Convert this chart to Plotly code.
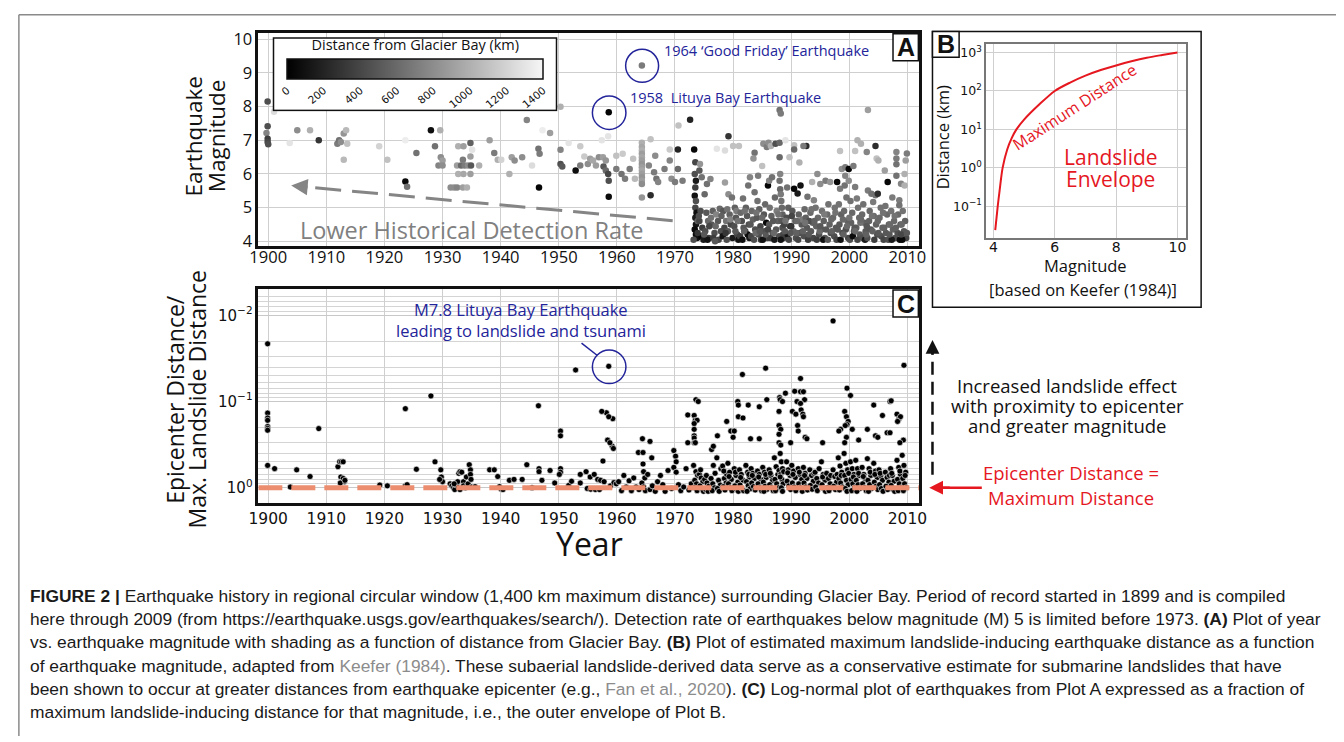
import plotly.graph_objects as go

W, H = 1344, 742

# ---------------- Panel A data: (year, magnitude, distance from Glacier Bay in km)
A_EVENTS = [
    (1899.9, 8.15, 450), (1901.0, 7.85, 1250), (1899.9, 7.42, 450), (1899.7, 7.22, 750),
    (1899.9, 7.05, 350), (1899.9, 6.95, 400), (1900.0, 6.88, 450), (1903.7, 6.92, 1300),
    (1905.0, 7.3, 800), (1907.2, 7.3, 1000), (1908.7, 7.0, 300), (1911.9, 6.9, 700),
    (1912.2, 7.0, 650), (1912.5, 6.95, 800), (1913.0, 7.2, 850), (1913.4, 7.3, 1050),
    (1913.6, 6.9, 1100), (1913.0, 6.42, 1050), (1919.1, 6.82, 1200), (1920.5, 6.42, 1100),
    (1923.6, 7.0, 1350), (1923.6, 5.78, 50), (1923.9, 5.62, 650), (1925.5, 6.62, 650),
    (1928.0, 7.3, 80), (1929.6, 7.3, 1000), (1928.7, 6.82, 650), (1929.7, 6.5, 800),
    (1930.0, 6.4, 900), (1929.3, 6.25, 750), (1930.0, 6.25, 800), (1931.4, 5.6, 800),
    (1932.0, 5.6, 800), (1932.5, 5.6, 750), (1932.7, 6.82, 1000), (1933.6, 6.82, 900),
    (1934.8, 6.92, 550), (1935.1, 6.72, 1300), (1932.5, 6.25, 900), (1933.2, 6.25, 600),
    (1933.8, 6.25, 700), (1934.4, 6.25, 800), (1934.9, 6.25, 500), (1932.7, 6.0, 1000),
    (1933.6, 6.0, 950), (1934.8, 6.0, 900), (1933.5, 6.42, 700), (1934.8, 6.52, 900),
    (1933.5, 5.6, 900), (1934.2, 5.6, 1000), (1936.3, 6.25, 1000), (1938.1, 7.0, 900),
    (1938.9, 6.62, 700), (1939.5, 6.42, 1000), (1940.1, 6.42, 1200), (1941.5, 6.0, 1000),
    (1941.9, 6.5, 900), (1942.4, 6.4, 800), (1943.7, 6.5, 800), (1944.5, 7.6, 750),
    (1945.4, 6.25, 1250), (1946.5, 6.75, 650), (1946.7, 6.6, 700), (1946.6, 5.6, 30),
    (1947.2, 7.3, 1350), (1948.5, 7.22, 900), (1950.3, 8.0, 1000), (1950.3, 6.72, 750),
    (1950.3, 6.3, 450), (1950.6, 6.22, 500), (1951.7, 6.92, 1300), (1952.9, 6.1, 80),
    (1953.7, 6.82, 1150), (1953.7, 6.25, 700), (1954.4, 6.52, 1150), (1955.0, 6.3, 800),
    (1955.4, 6.45, 900), (1955.9, 6.4, 950), (1956.4, 6.25, 900), (1956.9, 6.5, 800),
    (1957.6, 6.5, 900), (1958.1, 6.4, 850), (1957.7, 6.22, 500), (1958.1, 6.1, 600),
    (1958.5, 6.0, 400), (1958.6, 5.8, 450), (1958.6, 5.32, 60), (1958.6, 7.83, 20),
    (1958.5, 7.12, 1300), (1957.4, 7.0, 1300), (1964.3, 9.22, 700), (1970.6, 7.44, 1100),
    (1972.6, 7.61, 200), (1965.8, 7.03, 1100),
    (1964.3, 6.93, 1000), (1964.3, 6.8, 950), (1964.3, 6.7, 1000), (1964.3, 6.6, 900),
    (1964.3, 6.5, 950), (1964.3, 6.4, 900), (1964.3, 6.3, 850), (1964.3, 6.2, 900),
    (1964.3, 6.1, 950), (1964.3, 6.0, 900), (1964.3, 5.9, 850), (1964.3, 5.8, 900),
    (1964.3, 5.7, 800), (1964.3, 5.3, 850), (1959.9, 6.54, 1100), (1959.9, 6.15, 700),
    (1960.8, 6.0, 650), (1961.4, 5.86, 700), (1962.2, 6.15, 700), (1963.1, 5.86, 1050),
    (1965.5, 6.25, 750), (1966.4, 6.05, 700), (1966.8, 5.86, 650), (1967.1, 5.76, 750),
    (1965.8, 5.37, 250), (1966.6, 6.54, 800), (1969.1, 6.4, 750), (1968.2, 6.15, 700),
    (1969.4, 5.86, 800), (1970.0, 5.76, 700), (1970.5, 6.15, 600), (1971.3, 5.8, 700),
    (1969.1, 6.73, 1150), (1970.5, 6.73, 200), (1961.0, 6.6, 1150), (1962.8, 6.45, 1100),
    # 1973 onwards
    (1973.3, 6.73, 40), (1973.5, 6.35, 400), (1973.4, 6.0, 450), (1973.6, 5.8, 150),
    (1973.5, 5.6, 350), (1973.4, 5.35, 100), (1973.6, 5.2, 450), (1973.5, 5.0, 400),
    (1973.7, 4.85, 80), (1973.5, 4.7, 150), (1973.6, 4.5, 120), (1973.4, 4.35, 60),
    (1973.6, 4.2, 50), (1973.8, 4.1, 100), (1973.2, 4.05, 450), (1973.9, 4.6, 550),
    (1974.3, 6.3, 850), (1974.2, 6.1, 500), (1974.6, 5.9, 650), (1974.4, 4.9, 450),
    (1974.7, 4.4, 350), (1974.5, 4.15, 40), (1974.9, 4.05, 150), (1974.2, 4.6, 400),
    (1975.5, 5.7, 650), (1975.1, 5.4, 600), (1975.4, 4.85, 500), (1975.7, 4.6, 600),
    (1975.2, 4.3, 450), (1975.8, 4.1, 350), (1975.6, 4.05, 100), (1976.1, 5.85, 750),
    (1976.5, 4.9, 550), (1976.3, 4.5, 500), (1976.8, 4.25, 450), (1976.6, 4.1, 350),
    (1976.2, 4.7, 650), (1977.2, 6.75, 1300), (1977.7, 4.97, 600), (1977.4, 4.6, 500),
    (1977.9, 4.3, 450), (1977.5, 4.05, 400), (1977.1, 4.8, 750), (1978.6, 6.7, 1250),
    (1978.6, 5.75, 900), (1978.3, 4.9, 500), (1978.8, 4.6, 650), (1978.5, 4.4, 400),
    (1978.2, 4.15, 100), (1978.9, 4.05, 450), (1979.2, 7.12, 300), (1979.2, 5.4, 800),
    (1979.8, 5.3, 650), (1979.4, 4.8, 550), (1979.6, 4.5, 400), (1979.1, 4.3, 500),
    (1979.9, 4.1, 150), (1979.5, 4.65, 750), (1980.0, 6.83, 1100), (1980.3, 5.0, 550),
    (1980.5, 4.7, 500), (1980.2, 4.45, 450), (1980.7, 4.2, 400), (1980.9, 4.05, 100),
    (1980.6, 4.9, 700), (1981.0, 6.83, 1100), (1981.7, 5.27, 650), (1981.3, 4.85, 600),
    (1981.5, 4.6, 450), (1981.8, 4.4, 500), (1981.2, 4.15, 350), (1981.6, 4.05, 80),
    (1982.9, 5.9, 750), (1982.6, 5.66, 650), (1982.2, 5.0, 550), (1982.4, 4.75, 500),
    (1982.7, 4.5, 450), (1982.1, 4.3, 400), (1982.8, 4.1, 150), (1982.5, 4.2, 60),
    (1983.7, 6.63, 650), (1983.5, 6.46, 850), (1983.7, 5.46, 650), (1983.2, 4.9, 600),
    (1983.4, 4.65, 550), (1983.8, 4.35, 450), (1983.1, 4.15, 400), (1983.6, 4.05, 450),
    (1984.3, 5.95, 700), (1984.5, 4.95, 550), (1984.1, 4.7, 500), (1984.7, 4.45, 400),
    (1984.4, 4.2, 450), (1984.8, 4.05, 350), (1984.2, 5.2, 650), (1985.0, 6.24, 1100),
    (1985.2, 6.9, 800), (1985.8, 6.8, 700), (1985.5, 5.1, 600), (1985.3, 4.8, 500),
    (1985.7, 4.55, 50), (1985.4, 4.3, 450), (1985.9, 4.1, 400), (1985.1, 4.05, 100),
    (1986.0, 5.66, 30), (1986.2, 5.8, 750), (1986.7, 5.9, 650), (1986.1, 6.93, 800),
    (1986.5, 6.83, 1000), (1986.3, 5.0, 650), (1986.6, 4.75, 550), (1986.2, 4.5, 500),
    (1986.8, 4.25, 450), (1986.4, 4.1, 350), (1987.3, 6.9, 450), (1987.2, 5.3, 600),
    (1987.5, 4.9, 700), (1987.7, 4.6, 550), (1987.4, 4.35, 500), (1987.9, 4.15, 450),
    (1987.1, 4.05, 150), (1988.0, 7.9, 650), (1988.2, 7.8, 700), (1988.0, 6.93, 600),
    (1988.0, 6.5, 600), (1988.1, 6.0, 750), (1988.0, 5.8, 650), (1988.1, 5.55, 600),
    (1988.2, 5.4, 700), (1988.3, 5.2, 650), (1988.4, 5.0, 600), (1988.5, 4.8, 550),
    (1988.3, 4.6, 500), (1988.5, 4.4, 450), (1988.6, 4.2, 400), (1988.7, 4.1, 350),
    (1988.2, 4.05, 100), (1989.7, 6.5, 1100), (1989.0, 7.0, 1300), (1989.3, 5.6, 650),
    (1989.5, 5.0, 550), (1989.2, 4.7, 450), (1989.8, 4.45, 350), (1989.4, 4.2, 100),
    (1989.6, 4.05, 400), (1990.5, 6.85, 1100), (1990.5, 6.73, 600), (1990.5, 5.56, 30),
    (1990.2, 4.9, 500), (1990.7, 4.6, 550), (1990.4, 4.3, 600), (1990.8, 4.1, 450),
    (1990.1, 4.75, 400), (1991.4, 6.34, 1000), (1991.6, 5.66, 100), (1991.1, 5.42, 150),
    (1991.3, 4.8, 550), (1991.8, 4.5, 500), (1991.5, 4.25, 450), (1991.2, 4.05, 400),
    (1991.9, 4.65, 700), (1992.6, 6.83, 250), (1992.1, 6.83, 700), (1992.8, 5.32, 650),
    (1992.3, 4.95, 600), (1992.5, 4.7, 550), (1992.7, 4.4, 500), (1992.2, 4.15, 450),
    (1992.9, 4.05, 350), (1993.6, 5.76, 1000), (1993.9, 5.22, 750), (1993.3, 4.85, 600),
    (1993.7, 4.55, 550), (1993.4, 4.3, 500), (1993.8, 4.1, 400), (1993.1, 4.6, 450),
    (1994.5, 6.0, 800), (1994.2, 5.0, 650), (1994.6, 4.7, 600), (1994.3, 4.45, 550),
    (1994.8, 4.2, 450), (1994.4, 4.05, 350), (1995.0, 5.7, 800), (1995.9, 5.8, 700),
    (1995.3, 4.9, 650), (1995.6, 4.6, 550), (1995.2, 4.35, 450), (1995.8, 4.1, 500),
    (1995.5, 4.05, 100), (1996.7, 5.76, 850), (1996.4, 5.1, 650), (1996.2, 4.8, 600),
    (1996.6, 4.5, 550), (1996.8, 4.25, 450), (1996.3, 4.05, 500), (1997.9, 5.76, 40),
    (1997.5, 5.0, 650), (1997.2, 4.7, 600), (1997.7, 4.4, 500), (1997.4, 4.15, 450),
    (1997.8, 4.05, 400), (1998.4, 6.68, 1100), (1998.7, 6.15, 800), (1998.4, 5.56, 700),
    (1998.2, 5.1, 650), (1998.6, 4.8, 550), (1998.3, 4.5, 500), (1998.8, 4.25, 450),
    (1998.5, 4.05, 100), (1999.3, 6.2, 700), (1999.2, 5.66, 650), (1999.3, 5.95, 750),
    (1999.5, 5.3, 650), (1999.1, 4.9, 600), (1999.7, 4.6, 550), (1999.4, 4.35, 450),
    (1999.8, 4.1, 400), (1999.9, 6.15, 30), (2000.7, 6.24, 700), (1999.9, 5.8, 800),
    (2000.2, 5.2, 650), (2000.5, 4.85, 600), (2000.3, 4.55, 550), (2000.8, 4.3, 500),
    (2000.1, 4.05, 450), (2000.6, 4.15, 60), (2001.0, 6.68, 1100), (2001.4, 7.0, 1000),
    (2001.0, 5.61, 700), (2001.3, 5.27, 700), (2001.5, 5.0, 650), (2001.7, 4.7, 600),
    (2001.2, 4.4, 550), (2001.8, 4.2, 500), (2001.4, 4.05, 400), (2002.0, 6.9, 1000),
    (2002.4, 5.1, 650), (2002.2, 4.8, 600), (2002.6, 4.55, 550), (2002.8, 4.3, 500),
    (2002.3, 4.1, 450), (2002.7, 4.05, 150), (2003.2, 7.9, 900), (2003.0, 6.65, 750),
    (2003.2, 5.51, 700), (2003.8, 5.41, 650), (2003.5, 4.9, 600), (2003.4, 4.6, 550),
    (2003.7, 4.35, 500), (2003.1, 4.1, 450), (2004.5, 6.83, 250), (2004.7, 6.46, 1100),
    (2004.1, 5.17, 700), (2004.5, 5.37, 650), (2004.9, 5.41, 250), (2004.2, 4.75, 600),
    (2004.6, 4.5, 550), (2004.8, 4.2, 450), (2004.3, 4.05, 350), (2005.0, 6.4, 1000),
    (2005.4, 5.0, 650), (2005.2, 4.7, 600), (2005.7, 4.4, 550), (2005.5, 4.15, 450),
    (2005.9, 4.05, 400), (2006.6, 5.76, 40), (2006.2, 5.05, 650), (2006.5, 4.8, 600),
    (2006.8, 4.5, 550), (2006.3, 4.25, 500), (2006.7, 4.05, 450), (2006.1, 6.1, 900),
    (2007.4, 5.3, 700), (2007.2, 4.9, 650), (2007.7, 4.6, 600), (2007.5, 4.35, 550),
    (2007.9, 4.1, 450), (2007.3, 4.05, 150), (2008.1, 6.65, 750), (2008.1, 6.46, 700),
    (2008.1, 6.29, 650), (2008.1, 5.95, 650), (2008.6, 5.22, 700), (2008.6, 5.07, 650),
    (2008.4, 4.8, 600), (2008.8, 4.5, 500), (2008.3, 4.25, 450), (2008.7, 4.05, 60),
    (2009.9, 6.61, 700), (2008.9, 5.71, 750), (2009.5, 5.66, 1000), (2009.2, 4.9, 650),
    (2009.6, 4.6, 550), (2009.4, 4.3, 500), (2009.8, 4.1, 400), (2009.1, 4.05, 50),
    (2009.7, 6.4, 900), (2009.5, 6.0, 1000),
    # more of the dense low-magnitude band
    (1973.9, 4.25, 300), (1974.1, 4.75, 450), (1975.0, 4.2, 500), (1975.9, 4.45, 400),
    (1976.9, 4.0, 500), (1977.0, 4.45, 600), (1978.0, 4.75, 550), (1978.7, 4.25, 300),
    (1979.0, 4.95, 650), (1980.4, 4.3, 500), (1980.8, 4.6, 650), (1981.9, 4.3, 550),
    (1982.0, 4.9, 650), (1983.0, 4.5, 500), (1983.9, 4.25, 600), (1984.0, 4.85, 650),
    (1984.6, 4.3, 500), (1985.0, 4.7, 600), (1985.6, 4.2, 500), (1986.0, 4.35, 400),
    (1986.9, 4.6, 500), (1987.0, 4.25, 600), (1987.8, 4.8, 650), (1988.8, 4.5, 400),
    (1988.9, 4.3, 500), (1989.0, 4.6, 650), (1989.9, 4.25, 500), (1990.0, 4.45, 300),
    (1990.9, 4.25, 550), (1991.0, 4.6, 600), (1992.0, 4.3, 550), (1992.4, 4.55, 650),
    (1993.0, 4.2, 500), (1993.5, 4.95, 650), (1994.0, 4.6, 550), (1994.9, 4.3, 600),
    (1995.0, 4.45, 500), (1995.7, 4.8, 700), (1996.0, 4.35, 500), (1996.9, 4.65, 600),
    (1997.0, 4.3, 550), (1997.6, 4.85, 650), (1998.0, 4.35, 500), (1998.9, 4.65, 600),
    (1999.0, 4.2, 550), (1999.6, 4.45, 600), (2000.0, 4.7, 650), (2000.9, 4.4, 500),
    (2001.0, 4.3, 600), (2001.9, 4.55, 650), (2002.0, 4.65, 600), (2002.9, 4.2, 550),
    (2003.0, 4.45, 500), (2003.9, 4.75, 650), (2004.0, 4.3, 550), (2004.9, 4.6, 600),
    (2005.0, 4.25, 500), (2005.8, 4.85, 650), (2006.0, 4.4, 550), (2006.9, 4.2, 500),
    (2007.0, 4.5, 600), (2007.8, 4.75, 650), (2008.0, 4.4, 550), (2008.9, 4.2, 400),
    (2009.0, 4.5, 600), (2009.9, 4.25, 500),
]

# ---------------- Panel B data: Keefer (1984) maximum landslide distance envelope
B_MAG = [4.06, 4.14, 4.2, 4.3, 4.45, 4.6, 4.75, 5.0, 5.5, 6.0, 6.5, 7.0, 7.5, 8.0, 8.5, 9.0, 9.5, 10.0]
B_DIST = [0.024, 0.1, 0.25, 1.0, 3.0, 6.0, 10, 18, 45, 100, 165, 250, 350, 460, 590, 730, 860, 1000]

# ---------------- Panel C data: (year, epicentre distance / max landslide distance)
C_EVENTS = [
    (1899.9, 0.0214), (1899.9, 0.136), (1899.9, 0.155), (1899.9, 0.165), (1899.9, 0.195),
    (1899.9, 0.205), (1899.9, 0.215), (1899.9, 0.55), (1901.1, 0.6), (1903.8, 0.98),
    (1904.9, 0.62), (1907.2, 0.74), (1908.7, 0.206), (1912.0, 0.57), (1912.3, 0.5),
    (1912.6, 0.5), (1912.9, 0.5), (1912.5, 0.75), (1912.9, 0.78), (1913.1, 0.85),
    (1912.4, 0.88), (1913.2, 0.82), (1919.2, 0.93), (1920.5, 0.95), (1923.6, 0.121),
    (1923.6, 0.95), (1923.9, 0.92), (1925.5, 0.61), (1928.0, 0.086), (1928.7, 0.5),
    (1929.7, 0.62), (1929.8, 0.75), (1930.0, 0.85), (1929.5, 0.8), (1931.3, 0.9),
    (1931.6, 0.95), (1931.9, 1.0), (1932.1, 1.05), (1932.4, 0.93), (1932.6, 0.85),
    (1932.8, 0.68), (1933.0, 0.65), (1933.3, 0.66), (1933.6, 0.85), (1933.6, 0.95),
    (1933.9, 1.0), (1934.1, 0.75), (1934.4, 0.9), (1934.6, 0.54), (1934.8, 0.62),
    (1934.8, 0.7), (1934.9, 0.8), (1935.0, 0.98), (1935.6, 0.97), (1933.0, 1.05),
    (1932.0, 0.9), (1938.1, 0.62), (1938.9, 0.62), (1939.5, 0.74), (1939.8, 0.97),
    (1940.1, 1.04), (1940.4, 1.05), (1941.5, 0.82), (1942.3, 0.8), (1943.7, 0.8),
    (1944.5, 0.54), (1945.4, 1.0), (1946.5, 0.112), (1946.6, 0.6), (1946.6, 0.65),
    (1947.1, 0.82), (1948.5, 0.63), (1949.3, 0.88), (1950.3, 0.22), (1950.3, 0.25),
    (1950.3, 0.6), (1950.3, 0.66), (1950.1, 0.7), (1951.7, 0.94), (1952.2, 0.84),
    (1952.9, 0.043), (1953.7, 0.7), (1953.7, 0.88), (1954.7, 0.65), (1955.4, 0.75),
    (1956.1, 0.7), (1954.9, 1.02), (1955.5, 1.04), (1956.3, 1.05), (1957.0, 1.05),
    (1956.7, 0.8), (1957.2, 0.82), (1957.8, 0.85), (1957.6, 0.49), (1958.2, 0.135),
    (1958.6, 0.039), (1959.3, 0.158), (1959.2, 0.33), (1959.4, 0.35), (1958.9, 0.95),
    (1959.5, 0.87), (1959.9, 0.9),
    # scattered upper points, 1960 onwards
    (1981.6, 0.0485), (1985.6, 0.041), (1991.6, 0.054), (2009.4, 0.038), (1997.2, 0.0116),
    (1999.6, 0.070), (1990.6, 0.076), (1991.6, 0.077), (1992.1, 0.077), (1989.0, 0.08),
    (1988.0, 0.09), (1988.1, 0.095), (1988.5, 0.1), (1985.8, 0.095), (1992.3, 0.095),
    (1973.6, 0.095), (1974.0, 0.1), (1980.8, 0.1), (1980.9, 0.11), (1982.6, 0.11),
    (1984.5, 0.115), (1991.0, 0.1), (1987.9, 0.13), (1991.6, 0.105), (1991.7, 0.125),
    (1992.0, 0.14), (1992.1, 0.15), (1990.2, 0.13), (1990.8, 0.14), (2000.2, 0.085),
    (1999.2, 0.13), (1999.5, 0.15), (1999.8, 0.17), (1999.6, 0.185), (1999.3, 0.19),
    (1998.5, 0.21), (1998.2, 0.22), (2004.2, 0.11), (2005.7, 0.145), (2007.0, 0.1),
    (2007.2, 0.098), (2008.2, 0.14), (2008.5, 0.16), (2008.8, 0.15), (2008.3, 0.17),
    (1972.2, 0.143), (1973.3, 0.145), (1973.5, 0.165), (1973.8, 0.165), (1973.3, 0.18),
    (1973.3, 0.21), (1973.3, 0.25), (1973.3, 0.265), (1973.3, 0.3), (1972.2, 0.3),
    (1973.5, 0.3), (1957.4, 0.13), (1958.6, 0.15), (1958.4, 0.28), (1958.8, 0.3),
    (1964.4, 0.27), (1965.7, 0.29), (1963.7, 0.39), (1964.5, 0.39), (1966.0, 0.45),
    (1964.5, 0.53), (1964.6, 0.65), (1964.8, 0.77), (1978.9, 0.17), (1980.9, 0.15),
    (1981.7, 0.155), (1979.6, 0.22), (1980.2, 0.22), (1977.3, 0.25), (1980.0, 0.26),
    (1983.0, 0.27), (1984.5, 0.27), (1987.9, 0.19), (1988.2, 0.21), (1987.9, 0.24),
    (1991.1, 0.19), (1991.2, 0.22), (1987.9, 0.3), (1988.2, 0.32), (1989.9, 0.3),
    (1992.4, 0.26), (1992.7, 0.27), (1995.4, 0.3), (2003.1, 0.21), (2000.5, 0.21),
    (2001.6, 0.28), (1999.5, 0.26), (1999.2, 0.3), (2004.5, 0.25), (2004.9, 0.26),
    (2006.5, 0.23), (2007.0, 0.23), (2009.3, 0.28), (2008.7, 0.3), (1969.8, 0.37),
    (1970.1, 0.43), (1970.2, 0.5), (1968.8, 0.63), (1969.8, 0.58), (1976.3, 0.36),
    (1976.6, 0.33),
    # dense band near the envelope
    (1960.3, 0.85), (1960.8, 1.08), (1961.2, 0.72), (1961.6, 0.98), (1962.1, 0.83),
    (1962.5, 1.08), (1962.9, 0.77), (1963.3, 0.98), (1963.8, 1.05), (1964.3, 0.88),
    (1964.6, 0.98), (1964.9, 1.08), (1965.3, 0.7), (1965.7, 1.05), (1966.1, 0.95),
    (1966.6, 1.1), (1967.0, 0.85), (1967.5, 0.72), (1967.9, 0.92), (1968.3, 1.1),
    (1969.4, 1.02), (1970.2, 0.66), (1970.6, 0.92), (1971.0, 1.08), (1971.5, 0.98),
    (1971.9, 0.6), (1972.4, 1.06), (1972.8, 0.9),
    (1973.2, 0.55), (1973.6, 0.65), (1973.9, 0.72), (1973.4, 0.82), (1973.7, 0.9), (1973.3, 1.0), (1973.8, 1.08),
    (1974.2, 0.7), (1974.5, 0.77), (1974.8, 0.85), (1974.3, 0.95), (1974.6, 1.03), (1974.9, 1.1), (1974.4, 0.62),
    (1975.1, 0.8), (1975.5, 0.88), (1975.8, 0.96), (1975.3, 1.05), (1975.7, 1.1), (1975.4, 0.72),
    (1976.2, 0.78), (1976.5, 0.9), (1976.8, 1.0), (1976.4, 1.08), (1976.9, 0.68), (1976.6, 0.55),
    (1977.2, 0.45), (1977.5, 0.82), (1977.8, 0.93), (1977.3, 1.02), (1977.6, 1.1), (1977.9, 0.6),
    (1978.2, 0.56), (1978.5, 0.78), (1978.8, 0.88), (1978.3, 0.97), (1978.6, 1.06), (1978.9, 0.7), (1978.4, 0.64),
    (1979.1, 0.52), (1979.4, 0.66), (1979.7, 0.8), (1979.2, 0.9), (1979.5, 1.0), (1979.8, 1.08), (1979.3, 0.74),
    (1980.2, 0.6), (1980.5, 0.72), (1980.8, 0.86), (1980.3, 0.95), (1980.6, 1.04), (1980.9, 1.1), (1980.4, 0.66),
    (1981.1, 0.62), (1981.4, 0.7), (1981.7, 0.82), (1981.2, 0.93), (1981.5, 1.02), (1981.8, 1.08), (1981.3, 0.76),
    (1982.2, 0.55), (1982.5, 0.66), (1982.8, 0.75), (1982.3, 0.85), (1982.6, 0.94), (1982.9, 1.03), (1982.4, 1.1), (1982.7, 0.7),
    (1983.1, 0.6), (1983.4, 0.68), (1983.7, 0.78), (1983.2, 0.88), (1983.5, 0.97), (1983.8, 1.06), (1983.3, 0.72),
    (1984.2, 0.64), (1984.5, 0.7), (1984.8, 0.8), (1984.3, 0.9), (1984.6, 1.0), (1984.9, 1.08), (1984.4, 0.75),
    (1985.1, 0.58), (1985.4, 0.66), (1985.7, 0.76), (1985.2, 0.86), (1985.5, 0.96), (1985.8, 1.05), (1985.3, 1.1), (1985.6, 0.7),
    (1986.2, 0.62), (1986.5, 0.72), (1986.8, 0.82), (1986.3, 0.92), (1986.6, 1.0), (1986.9, 1.08), (1986.4, 0.68),
    (1987.1, 0.45), (1987.4, 0.57), (1987.7, 0.7), (1987.2, 0.8), (1987.5, 0.9), (1987.8, 1.0), (1987.3, 1.08), (1987.9, 0.63),
    (1988.1, 0.4), (1988.3, 0.5), (1988.5, 0.6), (1988.2, 0.7), (1988.4, 0.8), (1988.6, 0.9), (1988.3, 1.0), (1988.5, 1.1), (1988.7, 0.65), (1988.1, 0.75),
    (1989.2, 0.5), (1989.5, 0.62), (1989.8, 0.72), (1989.3, 0.84), (1989.6, 0.95), (1989.9, 1.05), (1989.4, 0.67),
    (1990.1, 0.55), (1990.4, 0.64), (1990.7, 0.76), (1990.2, 0.88), (1990.5, 0.98), (1990.8, 1.08), (1990.3, 0.7),
    (1991.2, 0.6), (1991.5, 0.7), (1991.8, 0.8), (1991.3, 0.9), (1991.6, 1.0), (1991.9, 1.1), (1991.4, 0.66),
    (1992.1, 0.58), (1992.4, 0.68), (1992.7, 0.78), (1992.2, 0.88), (1992.5, 0.98), (1992.8, 1.06), (1992.3, 0.72),
    (1993.2, 0.62), (1993.5, 0.72), (1993.8, 0.84), (1993.3, 0.94), (1993.6, 1.04), (1993.9, 0.68),
    (1994.1, 0.66), (1994.4, 0.78), (1994.7, 0.88), (1994.2, 0.98), (1994.5, 1.08), (1994.8, 0.6),
    (1995.2, 0.5), (1995.5, 0.7), (1995.8, 0.82), (1995.3, 0.92), (1995.6, 1.02), (1995.9, 1.1), (1995.4, 0.75),
    (1996.1, 0.68), (1996.4, 0.78), (1996.7, 0.9), (1996.2, 1.0), (1996.5, 1.08), (1996.8, 0.72),
    (1997.2, 0.62), (1997.5, 0.74), (1997.8, 0.86), (1997.3, 0.96), (1997.6, 1.05), (1997.9, 0.7),
    (1998.1, 0.45), (1998.4, 0.56), (1998.7, 0.66), (1998.2, 0.78), (1998.5, 0.88), (1998.8, 0.98), (1998.3, 1.06), (1998.6, 0.72),
    (1999.1, 0.4), (1999.4, 0.52), (1999.7, 0.62), (1999.2, 0.72), (1999.5, 0.82), (1999.8, 0.92), (1999.3, 1.02), (1999.6, 1.1), (1999.9, 0.68),
    (2000.2, 0.5), (2000.5, 0.6), (2000.8, 0.7), (2000.3, 0.8), (2000.6, 0.9), (2000.9, 1.0), (2000.4, 1.08), (2000.7, 0.75),
    (2001.1, 0.48), (2001.4, 0.6), (2001.7, 0.72), (2001.2, 0.82), (2001.5, 0.92), (2001.8, 1.02), (2001.3, 1.1), (2001.6, 0.68),
    (2002.2, 0.58), (2002.5, 0.7), (2002.8, 0.8), (2002.3, 0.9), (2002.6, 1.0), (2002.9, 1.08), (2002.4, 0.74),
    (2003.1, 0.46), (2003.4, 0.6), (2003.7, 0.72), (2003.2, 0.82), (2003.5, 0.92), (2003.8, 1.02), (2003.3, 1.1), (2003.6, 0.66),
    (2004.2, 0.52), (2004.5, 0.64), (2004.8, 0.76), (2004.3, 0.86), (2004.6, 0.96), (2004.9, 1.05), (2004.4, 0.7),
    (2005.1, 0.62), (2005.4, 0.72), (2005.7, 0.82), (2005.2, 0.92), (2005.5, 1.02), (2005.8, 1.1), (2005.3, 0.68),
    (2006.2, 0.66), (2006.5, 0.76), (2006.8, 0.86), (2006.3, 0.96), (2006.6, 1.05), (2006.9, 0.72),
    (2007.1, 0.6), (2007.4, 0.72), (2007.7, 0.84), (2007.2, 0.94), (2007.5, 1.04), (2007.8, 1.1), (2007.3, 0.68),
    (2008.2, 0.48), (2008.5, 0.58), (2008.8, 0.7), (2008.3, 0.8), (2008.6, 0.9), (2008.9, 1.0), (2008.4, 1.08), (2008.7, 0.64),
    (2009.1, 0.42), (2009.4, 0.55), (2009.7, 0.66), (2009.2, 0.78), (2009.5, 0.9), (2009.8, 1.0), (2009.3, 1.08), (2009.6, 0.72),
]

YEAR_TICKS = list(range(1900, 2011, 10))
MAG_TICKS = [4, 5, 6, 7, 8, 9, 10]
DIST_TICKS = [0, 200, 400, 600, 800, 1000, 1200, 1400]
B_XTICKS = [4, 6, 8, 10]
B_YTICKS = [0.1, 1, 10, 100, 1000]
B_YTEXT = ["10<sup>\u22121</sup>", "10<sup>0</sup>", "10<sup>1</sup>", "10<sup>2</sup>", "10<sup>3</sup>"]
C_YTICKS = [0.01, 0.1, 1]
C_YTEXT = ["10<sup>\u22122</sup>", "10<sup>\u22121</sup>", "10<sup>0</sup>"]
ENVELOPE_RATIO = 1.0

CAPTION = [
    "<b>FIGURE 2 |</b> Earthquake history in regional circular window (1,400 km maximum distance) surrounding Glacier Bay. Period of record started in 1899 and is compiled",
    "here through 2009 (from https://earthquake.usgs.gov/earthquakes/search/). Detection rate of earthquakes below magnitude (M) 5 is limited before 1973. <b>(A)</b> Plot of year",
    "vs. earthquake magnitude with shading as a function of distance from Glacier Bay. <b>(B)</b> Plot of estimated maximum landslide-inducing earthquake distance as a function",
    "of earthquake magnitude, adapted from <span style='color:#8c8c8c'>Keefer (1984)</span>. These subaerial landslide-derived data serve as a conservative estimate for submarine landslides that have",
    "been shown to occur at greater distances from earthquake epicenter (e.g., <span style='color:#8c8c8c'>Fan et al., 2020</span>). <b>(C)</b> Log-normal plot of earthquakes from Plot A expressed as a fraction of",
    "maximum landslide-inducing distance for that magnitude, i.e., the outer envelope of Plot B.",
]

NAVY = "#23249a"
RED = "#e5171f"
MYR = "Open Sans"


def px(x):
    return x / W


def py(y):
    return 1 - y / H


fig = go.Figure()

fig.add_trace(go.Scatter(
    x=[e[0] for e in A_EVENTS], y=[e[1] for e in A_EVENTS], mode="markers",
    xaxis="x", yaxis="y", showlegend=False,
    marker=dict(
        size=6.5, color=[e[2] for e in A_EVENTS], cmin=0, cmax=1400,
        colorscale=[[0, "#000000"], [1, "#f6f6f6"]],
        line=dict(width=0),
        colorbar=dict(
            orientation="h", x=px(410.8), xanchor="center", y=py(33), yanchor="top",
            lenmode="pixels", len=280, thicknessmode="pixels", thickness=20,
            xpad=12, ypad=2,
            title=dict(text="Distance from Glacier Bay (km)", side="top",
                       font=dict(family=MYR, size=14.5, color="#111")),
            tickvals=DIST_TICKS, ticktext=[str(v) for v in DIST_TICKS], tickangle=-40,
            ticks="", tickfont=dict(family="DejaVu Sans", size=10.5, color="#111"),
            outlinecolor="#111", outlinewidth=1.5,
            bordercolor="#111", borderwidth=1.5, bgcolor="white",
        ),
    ),
))

fig.add_trace(go.Scatter(
    x=B_MAG, y=B_DIST, mode="lines", xaxis="x2", yaxis="y2", showlegend=False,
    line=dict(color=RED, width=2, shape="spline", smoothing=0.8),
))

fig.add_trace(go.Scatter(
    x=[e[0] for e in C_EVENTS], y=[e[1] for e in C_EVENTS], mode="markers",
    xaxis="x3", yaxis="y3", showlegend=False,
    marker=dict(size=6, color="#000", line=dict(width=0.6, color="white")),
))

fig.add_trace(go.Scatter(
    x=[1898.3, 2012.05], y=[ENVELOPE_RATIO, ENVELOPE_RATIO], mode="lines",
    xaxis="x3", yaxis="y3", showlegend=False,
    line=dict(color="#ec8d6f", width=5, dash="24px,9px"),
))

grid = "#cfcfcf"
spine = dict(showline=True, mirror=True, linecolor="#111", linewidth=2.5, zeroline=False,
             ticks="")

fig.update_layout(
    width=W, height=H, autosize=False,
    margin=dict(l=0, r=0, t=0, b=0),
    paper_bgcolor="white", plot_bgcolor="white",
    xaxis=dict(domain=[px(251.7), px(921.7)], range=[1898.3, 2012.05], anchor="y",
               tickvals=YEAR_TICKS, showgrid=True, gridcolor=grid, gridwidth=1.3,
               ticklabelstandoff=-6,
               tickfont=dict(family=MYR, size=16.5, color="#111"), **spine),
    yaxis=dict(domain=[py(245), py(28)], range=[3.85, 10.2], anchor="x",
               tickvals=MAG_TICKS, showgrid=True, gridcolor=grid, gridwidth=1.3,
               tickfont=dict(family=MYR, size=16.5, color="#111"), **spine),
    xaxis2=dict(domain=[px(989.3), px(1191.7)], range=[3.76, 10.27], anchor="y2",
                tickvals=B_XTICKS, showgrid=True, gridcolor=grid, gridwidth=1.3,
                ticklabelstandoff=-4,
                showline=True, mirror=True, linecolor="#777", linewidth=1.5, zeroline=False,
                tickfont=dict(family="DejaVu Sans", size=14, color="#111")),
    yaxis2=dict(domain=[py(236), py(40)], type="log", range=[-1.81, 3.21], anchor="x2",
                tickvals=B_YTICKS, ticktext=B_YTEXT, showgrid=True, gridcolor=grid, gridwidth=1.3,
                showline=True, mirror=True, linecolor="#777", linewidth=1.5, zeroline=False,
                tickfont=dict(family="DejaVu Sans", size=12.5, color="#111")),
    xaxis3=dict(domain=[px(251.7), px(921.7)], range=[1898.3, 2012.05], anchor="y3",
                tickvals=YEAR_TICKS, showgrid=True, gridcolor=grid, gridwidth=1.3,
                tickfont=dict(family="DejaVu Sans", size=15.5, color="#111"), **spine),
    yaxis3=dict(domain=[py(505), py(288.3)], type="log", range=[0.171, -2.305], anchor="x3",
                tickvals=C_YTICKS, ticktext=C_YTEXT, showgrid=True, gridcolor="#c8c8c8", gridwidth=1.3,
                minor=dict(dtick="D1", showgrid=True, gridcolor="#d4d4d4", gridwidth=1, ticks=""),
                tickfont=dict(family="DejaVu Sans", size=15, color="#111"), **spine),
)

shapes = []
annotations = []


def line(x0, y0, x1, y1, color, width, dash=None):
    shapes.append(dict(type="line", xref="paper", yref="paper", x0=px(x0), y0=py(y0),
                       x1=px(x1), y1=py(y1), line=dict(color=color, width=width, dash=dash)))


def rect(x0, y0, x1, y1, color="#111", width=1.5, fill=None):
    shapes.append(dict(type="rect", xref="paper", yref="paper", x0=px(x0), y0=py(y0),
                       x1=px(x1), y1=py(y1), line=dict(color=color, width=width),
                       fillcolor=fill))


def circle(cx, cy, r, color=NAVY, width=1.5):
    shapes.append(dict(type="circle", xref="paper", yref="paper", x0=px(cx - r), y0=py(cy + r),
                       x1=px(cx + r), y1=py(cy - r), line=dict(color=color, width=width)))


def text(x, y, s, size, color="#111", family=MYR, angle=0, xanchor="center", yanchor="middle"):
    annotations.append(dict(xref="paper", yref="paper", x=px(x), y=py(y), text=s, showarrow=False,
                            font=dict(family=family, size=size, color=color), textangle=angle,
                            xanchor=xanchor, yanchor=yanchor))


def arrowhead(tipx, tipy, dx, dy, color, width, size=1.0):
    annotations.append(dict(xref="paper", yref="paper", x=px(tipx), y=py(tipy), ax=dx, ay=dy,
                            axref="pixel", ayref="pixel", text="", showarrow=True,
                            arrowhead=2, arrowsize=size, arrowwidth=width, arrowcolor=color))


# outer frame
line(9, 10, 1344, 10, "#8a8a8a", 1.5)
line(9, 10, 9, 742, "#8a8a8a", 1.5)

# panel labels
rect(895, 29.3, 920.7, 56.7, fill="white")
text(908, 43, "<b>A</b>", 25, family="Liberation Sans")
rect(895, 289.3, 920.7, 316.7, fill="white")
text(908, 303, "<b>C</b>", 25, family="Liberation Sans")
rect(935, 27, 1207.3, 306.7, width=1.5)
rect(935, 27, 962, 53, fill="white")
text(948.5, 40, "<b>B</b>", 25, family="Liberation Sans")

# panel A decorations
circle(640.7, 61.7, 16.7)
circle(607.3, 109.3, 17)
text(661, 46, "1964 ‘Good Friday’ Earthquake", 14.5, NAVY, xanchor="left")
text(626.7, 94, "1958  Lituya Bay Earthquake", 14.5, NAVY, xanchor="left")
line(671.7, 219, 300, 184.7, "#858585", 3, dash="26px,11px")
arrowhead(285, 183.3, 17.9, 1.65, "#858585", 3, 1.1)
text(468.5, 228, "Lower Historical Detection Rate", 23.5, "#808080")
text(186, 133, "Earthquake", 22.5, angle=-90)
text(209, 133, "Magnitude", 22.5, angle=-90)

# panel B texts
text(1079, 104, "Maximum Distance", 16, RED, angle=-33)
text(1115.5, 154, "Landslide", 21, RED)
text(1115.5, 177, "Envelope", 21, RED)
text(945, 134, "Distance (km)", 16.5, angle=-90)
text(1090, 264, "Magnitude", 16.5)
text(1088, 289, "[based on Keefer (1984)]", 16.5)

# panel C decorations
circle(607.3, 367.3, 17)
line(579.3, 343.3, 595, 355.5, NAVY, 1.5)
text(518, 309, "M7.8 Lituya Bay Earthquake", 16.5, NAVY)
text(518, 330, "leading to landslide and tsunami", 16.5, NAVY)
text(167, 400, "Epicenter Distance/", 23, angle=-90)
text(190, 400, "Max. Landslide Distance", 23, angle=-90)
text(587, 547, "Year", 32)

# right-hand notes
line(935, 476.7, 935, 352, "#111", 2.5, dash="13px,7px")
arrowhead(935, 340, 0, 16, "#111", 2.5, 1.1)
text(1071.7, 386.7, "Increased landslide effect", 18.5)
text(1071.7, 406.7, "with proximity to epicenter", 18.5)
text(1071.7, 426.7, "and greater magnitude", 18.5)
line(985, 490, 945, 490, RED, 2.5)
arrowhead(931.7, 490, 22, 0, RED, 2.5, 1.1)
text(1075, 475, "Epicenter Distance =", 18.5, RED)
text(1075, 500, "Maximum Distance", 18.5, RED)

# caption
cap_y = [600, 623.5, 647, 670.5, 694, 717.5]
for yy, s in zip(cap_y, CAPTION):
    text(18, yy, s, 17.4, "#1a1a1a", family="Liberation Sans", xanchor="left")

fig.update_layout(shapes=shapes, annotations=annotations)
fig.write_html("out.html")
